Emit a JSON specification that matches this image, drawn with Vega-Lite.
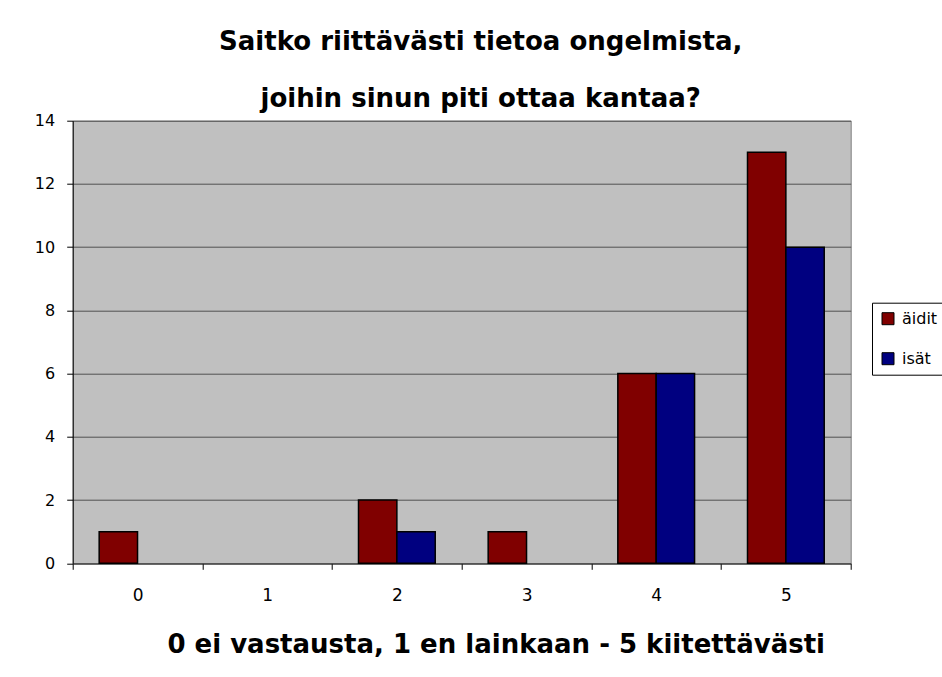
{
  "$schema": "https://vega.github.io/schema/vega-lite/v6.json",
  "autosize": {"type": "none"},
  "padding": {"left": 72.7, "top": 120.7, "right": 91.3, "bottom": 113.7},
  "width": 778,
  "height": 442.6,
  "background": "white",
  "config": {
    "font": "DejaVu Sans",
    "view": {"fill": "#C0C0C0", "stroke": "#808080", "strokeWidth": 1}
  },
  "title": {
    "text": ["Saitko riittävästi tietoa ongelmista,", "joihin sinun piti ottaa kantaa?"],
    "fontSize": 26,
    "fontWeight": "bold",
    "color": "black",
    "font": "DejaVu Sans",
    "anchor": "middle",
    "dx": 19,
    "offset": 1,
    "lineHeight": 57
  },
  "data": {
    "values": [
      {"k": "0", "g": "äidit", "n": 1},
      {"k": "0", "g": "isät", "n": 0},
      {"k": "1", "g": "äidit", "n": 0},
      {"k": "1", "g": "isät", "n": 0},
      {"k": "2", "g": "äidit", "n": 2},
      {"k": "2", "g": "isät", "n": 1},
      {"k": "3", "g": "äidit", "n": 1},
      {"k": "3", "g": "isät", "n": 0},
      {"k": "4", "g": "äidit", "n": 6},
      {"k": "4", "g": "isät", "n": 6},
      {"k": "5", "g": "äidit", "n": 13},
      {"k": "5", "g": "isät", "n": 10}
    ]
  },
  "transform": [{"filter": "datum.n > 0"}],
  "mark": {"type": "bar", "stroke": "black", "strokeWidth": 1.5},
  "encoding": {
    "x": {
      "field": "k",
      "type": "ordinal",
      "scale": {"domain": ["0", "1", "2", "3", "4", "5"], "paddingInner": 0, "paddingOuter": 0},
      "axis": {
        "title": "0 ei vastausta, 1 en lainkaan - 5 kiitettävästi",
        "titleFontSize": 26,
        "titleFontWeight": "bold",
        "titleColor": "black",
        "titleX": 423,
        "titleY": 89,
        "titleAlign": "center",
        "titleBaseline": "alphabetic",
        "labelAngle": 0,
        "labelFontSize": 17,
        "labelColor": "black",
        "labelPadding": 18,
        "tickBand": "extent",
        "tickSize": 6,
        "tickColor": "black",
        "domainColor": "#404040",
        "grid": false
      }
    },
    "xOffset": {
      "field": "g",
      "type": "nominal",
      "scale": {"domain": ["äidit", "isät"], "paddingInner": 0, "paddingOuter": 0.69}
    },
    "y": {
      "field": "n",
      "type": "quantitative",
      "scale": {"domain": [0, 14], "nice": false},
      "axis": {
        "title": null,
        "values": [0, 2, 4, 6, 8, 10, 12, 14],
        "labelFontSize": 16,
        "labelColor": "black",
        "labelPadding": 12,
        "tickSize": 6,
        "tickColor": "black",
        "domainColor": "black",
        "grid": true,
        "gridColor": "#505050",
        "gridOpacity": 1
      }
    },
    "color": {
      "field": "g",
      "type": "nominal",
      "scale": {"domain": ["äidit", "isät"], "range": ["#800000", "#000080"]},
      "legend": {
        "title": null,
        "orient": "none",
        "legendX": 799.3,
        "legendY": 182,
        "strokeColor": "black",
        "fillColor": "white",
        "padding": 8,
        "symbolType": "square",
        "symbolSize": 144,
        "symbolStrokeColor": "black",
        "symbolStrokeWidth": 1,
        "symbolOpacity": 1,
        "labelFontSize": 16,
        "labelColor": "black",
        "labelOffset": 6,
        "rowPadding": 24
      }
    }
  }
}
